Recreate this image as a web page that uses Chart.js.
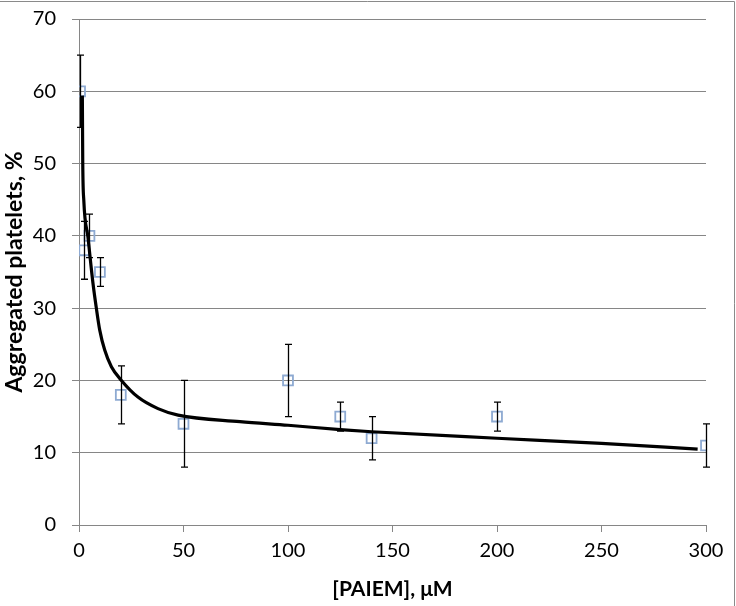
<!DOCTYPE html>
<html>
<head>
<meta charset="utf-8">
<script src="https://cdn.jsdelivr.net/npm/chart.js@4"></script>
<style>
html,body{margin:0;padding:0;background:#fff;}
#wrap{width:736px;height:606px;position:relative;}
</style>
</head>
<body>
<div id="wrap"><canvas id="c" width="736" height="606"></canvas></div>
<script>
// measured points
const xVals = [0.5, 2.5, 5, 10, 20, 50, 100, 125, 140, 200, 300];
const yVals = [60, 38, 40, 35, 18, 14, 20, 15, 12, 15, 11];
const errVals = [5, 4, 3, 2, 4, 6, 5, 2, 3, 2, 3];
// fitted curve
const fitX = [1.6, 1.8, 2.3, 4.3, 6.7, 8.3, 9.9, 12.3, 15.5, 20.3, 28.2, 37.8, 47.4, 77, 100, 125, 140, 200, 250, 296];
const fitY = [59.4, 50, 44.9, 39.8, 33.4, 30, 27, 24.2, 21.9, 20, 17.7, 16.1, 15.2, 14.3, 13.8, 13.2, 12.9, 12.0, 11.3, 10.5];
const xTicks = [0, 50, 100, 150, 200, 250, 300];
const yTicks = [0, 10, 20, 30, 40, 50, 60, 70];
const xTitle = '[PAIEM], μM';
const yTitle = 'Aggregated platelets, %';

const FONT = 'Lato, "Open Sans", sans-serif';

const errorBars = {
  id: 'errorBars',
  afterDatasetsDraw(chart) {
    const ctx = chart.ctx, xs = chart.scales.x, ys = chart.scales.y;
    ctx.save();
    ctx.strokeStyle = '#000';
    ctx.lineWidth = 1.3;
    xVals.forEach((xv, i) => {
      const px = Math.round(xs.getPixelForValue(xv)) + 0.5;
      const top = ys.getPixelForValue(yVals[i] + errVals[i]);
      const bot = ys.getPixelForValue(yVals[i] - errVals[i]);
      ctx.beginPath();
      ctx.moveTo(px, top); ctx.lineTo(px, bot);
      ctx.moveTo(px - 3.5, top); ctx.lineTo(px + 3.5, top);
      ctx.moveTo(px - 3.5, bot); ctx.lineTo(px + 3.5, bot);
      ctx.stroke();
    });
    ctx.restore();
  },
  afterDraw(chart) {
    const ctx = chart.ctx;
    ctx.save();
    ctx.strokeStyle = '#8a8a8a';
    ctx.lineWidth = 1;
    ctx.beginPath();
    ctx.moveTo(0, 1.5); ctx.lineTo(734.5, 1.5); ctx.lineTo(734.5, 606);
    ctx.stroke();
    ctx.restore();
  }
};

new Chart(document.getElementById('c'), {
  type: 'scatter',
  data: {
    datasets: [
      {
        label: 'fit',
        type: 'line',
        data: fitX.map((x, i) => ({x, y: fitY[i]})),
        borderColor: '#000',
        borderWidth: 3.2,
        pointRadius: 0,
        fill: false,
        cubicInterpolationMode: 'monotone',
        order: 0
      },
      {
        label: 'data',
        data: xVals.map((x, i) => ({x, y: yVals[i]})),
        pointStyle: 'rect',
        pointRadius: 7,
        pointBackgroundColor: 'rgba(255,255,255,0)',
        pointBorderColor: '#8eaad2',
        pointBorderWidth: 1.8,
        order: 1
      }
    ]
  },
  options: {
    responsive: false,
    animation: false,
    layout: {padding: {left: 0, top: 19, right: 30, bottom: 0}},
    plugins: {legend: {display: false}, tooltip: {enabled: false}},
    scales: {
      x: {
        type: 'linear',
        min: 0, max: 300,
        afterBuildTicks(s) { s.ticks = xTicks.map(v => ({value: v})); },
        afterFit(s) { s.height = 81; s.paddingLeft = 0; s.paddingRight = 0; },
        grid: {drawOnChartArea: false, drawTicks: true, tickLength: 7, color: '#868686'},
        border: {display: true, color: '#868686', width: 1},
        ticks: {color: '#000', font: {family: FONT, size: 20}, padding: 7, maxRotation: 0},
        title: {display: true, text: xTitle, color: '#000', font: {family: FONT, size: 21, weight: 'bold'}, padding: {top: 0, bottom: 4}}
      },
      y: {
        type: 'linear',
        min: 0, max: 70,
        afterBuildTicks(s) { s.ticks = yTicks.map(v => ({value: v})); },
        afterFit(s) { s.width = 79; s.paddingTop = 0; s.paddingBottom = 0; },
        grid: {drawOnChartArea: true, drawTicks: true, tickLength: 7, color: '#868686'},
        border: {display: true, color: '#868686', width: 1},
        ticks: {color: '#000', font: {family: FONT, size: 20}, padding: 16},
        title: {display: true, text: yTitle, color: '#000', font: {family: FONT, size: 23, weight: 'bold'}, padding: {top: 1, bottom: 0}}
      }
    }
  },
  plugins: [errorBars]
});
</script>
</body>
</html>
